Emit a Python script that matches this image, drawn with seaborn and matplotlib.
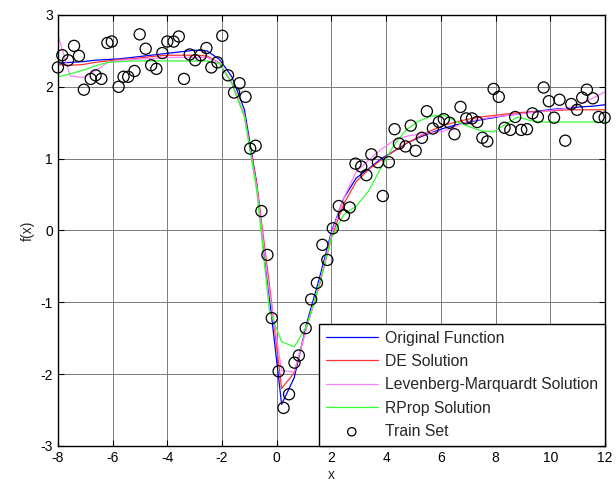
import seaborn as sns
import matplotlib
matplotlib.use('Agg')
import matplotlib.pyplot as plt

sns.set_style('ticks')
plt.rcParams['font.family'] = ['Liberation Sans', 'DejaVu Sans']
plt.rcParams['axes.unicode_minus'] = False

# training samples
x_train = [-8.00, -7.84, -7.63, -7.41, -7.23, -7.05, -6.80, -6.62, -6.41, -6.19,
           -6.03, -5.78, -5.60, -5.43, -5.20, -5.01, -4.79, -4.59, -4.40, -4.18,
           -4.00, -3.77, -3.58, -3.39, -3.18, -2.98, -2.78, -2.57, -2.39, -2.17,
           -1.99, -1.78, -1.56, -1.36, -1.14, -0.97, -0.77, -0.56, -0.34, -0.18,
           0.07, 0.25, 0.45, 0.65, 0.81, 1.06, 1.26, 1.47, 1.67, 1.85,
           2.05, 2.27, 2.46, 2.67, 2.88, 3.09, 3.28, 3.46, 3.70, 3.88,
           4.10, 4.31, 4.47, 4.71, 4.90, 5.08, 5.31, 5.49, 5.71, 5.93,
           6.11, 6.32, 6.50, 6.72, 6.93, 7.14, 7.33, 7.52, 7.70, 7.93,
           8.12, 8.33, 8.54, 8.72, 8.94, 9.15, 9.35, 9.55, 9.76, 9.95,
           10.14, 10.34, 10.55, 10.77, 10.98, 11.17, 11.34, 11.56, 11.77, 11.99]
y_train = [2.27, 2.44, 2.37, 2.57, 2.43, 1.96, 2.11, 2.16, 2.11, 2.61,
           2.63, 2.00, 2.14, 2.14, 2.22, 2.73, 2.53, 2.30, 2.25, 2.47,
           2.63, 2.63, 2.70, 2.11, 2.45, 2.37, 2.44, 2.54, 2.27, 2.34,
           2.71, 2.16, 1.92, 2.05, 1.86, 1.14, 1.18, 0.27, -0.34, -1.22,
           -1.96, -2.47, -2.28, -1.84, -1.74, -1.36, -0.96, -0.73, -0.20, -0.41,
           0.03, 0.34, 0.21, 0.32, 0.93, 0.89, 0.77, 1.06, 0.95, 0.48,
           0.95, 1.41, 1.21, 1.17, 1.46, 1.11, 1.29, 1.66, 1.42, 1.51,
           1.55, 1.50, 1.34, 1.72, 1.56, 1.56, 1.51, 1.29, 1.24, 1.97,
           1.86, 1.43, 1.40, 1.58, 1.40, 1.41, 1.63, 1.58, 1.99, 1.80,
           1.57, 1.82, 1.25, 1.76, 1.68, 1.85, 1.96, 1.84, 1.58, 1.57]

# test grid where the curves are evaluated
x_test = [-8.00, -7.55, -7.09, -6.64, -6.18, -5.73, -5.27, -4.82, -4.36, -3.91,
          -3.45, -3.00, -2.55, -2.09, -1.64, -1.18, -0.73, -0.27, 0.18, 0.64,
          1.09, 1.55, 2.00, 2.45, 2.91, 3.36, 3.82, 4.27, 4.73, 5.18,
          5.64, 6.09, 6.55, 7.00, 7.45, 7.91, 8.36, 8.82, 9.27, 9.73,
          10.18, 10.64, 11.09, 11.55, 12.00]

y_orig = [2.33, 2.34, 2.35, 2.37, 2.38, 2.39, 2.41, 2.43, 2.45, 2.47,
          2.49, 2.51, 2.50, 2.38, 2.14, 1.68, 0.65, -0.92, -2.42, -2.05,
          -1.30, -0.68, -0.02, 0.45, 0.73, 0.86, 1.00, 1.10, 1.21, 1.29,
          1.36, 1.42, 1.47, 1.51, 1.54, 1.57, 1.60, 1.62, 1.65, 1.67,
          1.69, 1.70, 1.72, 1.73, 1.75]
y_de = [2.31, 2.30, 2.31, 2.34, 2.36, 2.38, 2.39, 2.41, 2.43, 2.44,
        2.44, 2.44, 2.43, 2.33, 2.05, 1.60, 0.65, -0.75, -2.20, -1.98,
        -1.35, -0.78, -0.10, 0.37, 0.68, 0.85, 0.98, 1.10, 1.21, 1.30,
        1.39, 1.46, 1.51, 1.55, 1.58, 1.60, 1.62, 1.64, 1.65, 1.66,
        1.67, 1.68, 1.68, 1.68, 1.68]
y_lm = [2.72, 2.15, 2.13, 2.22, 2.34, 2.37, 2.38, 2.39, 2.40, 2.41,
        2.41, 2.41, 2.41, 2.33, 2.05, 1.60, 0.60, -0.85, -1.95, -1.97,
        -1.36, -0.75, -0.05, 0.45, 0.82, 0.98, 1.13, 1.25, 1.31, 1.34,
        1.36, 1.38, 1.45, 1.52, 1.55, 1.58, 1.60, 1.62, 1.64, 1.66,
        1.68, 1.70, 1.76, 1.84, 1.93]
y_rprop = [2.14, 2.18, 2.23, 2.29, 2.34, 2.35, 2.36, 2.36, 2.36, 2.36,
           2.36, 2.36, 2.36, 2.32, 2.05, 1.58, 0.55, -1.11, -1.55, -1.62,
           -1.33, -0.76, -0.10, 0.22, 0.34, 0.55, 0.88, 1.18, 1.40, 1.52,
           1.59, 1.61, 1.52, 1.45, 1.39, 1.37, 1.48, 1.58, 1.53, 1.51,
           1.51, 1.51, 1.51, 1.51, 1.51]

fig = plt.figure(figsize=(6.16, 4.91), dpi=100)
ax = fig.add_axes([0.094, 0.0917, 0.888, 0.8778])

lw = 0.9
sns.lineplot(x=x_test, y=y_orig, color='#0000ff', lw=lw, label='Original Function', ax=ax, sort=False)
sns.lineplot(x=x_test, y=y_de, color='#ff3333', lw=lw, label='DE Solution', ax=ax, sort=False)
sns.lineplot(x=x_test, y=y_lm, color='#ff80ff', lw=lw, label='Levenberg-Marquardt Solution', ax=ax, sort=False)
sns.lineplot(x=x_test, y=y_rprop, color='#33ff33', lw=lw, label='RProp Solution', ax=ax, sort=False)
sns.scatterplot(x=x_train, y=y_train, marker='o', s=64, facecolor='none', edgecolor='black',
                linewidth=0.9, label='Train Set', ax=ax, clip_on=False, zorder=5)

ax.set_xlim(-8, 12)
ax.set_ylim(-3, 3)
ax.set_xticks(range(-8, 13, 2))
ax.set_yticks(range(-3, 4))
ax.grid(True, color='#7a7a7a', lw=0.7, ls='-')
ax.tick_params(direction='in', top=True, right=True, length=4, width=0.8, labelsize=10, colors='black')
for sp in ax.spines.values():
    sp.set_color('black')
    sp.set_linewidth(1.0)
ax.set_xlabel('x', fontsize=10, labelpad=2)
ax.set_ylabel('f(x)', fontsize=10, labelpad=4)

leg = ax.legend(loc='lower right', borderaxespad=0, fontsize=11.3, frameon=True, fancybox=False,
                edgecolor='black', framealpha=1, handlelength=3.3, handletextpad=0.45,
                labelspacing=0.53, borderpad=0.45, markerscale=0.75)
leg.get_frame().set_linewidth(1.0)

fig.savefig('out.png', dpi=100)
